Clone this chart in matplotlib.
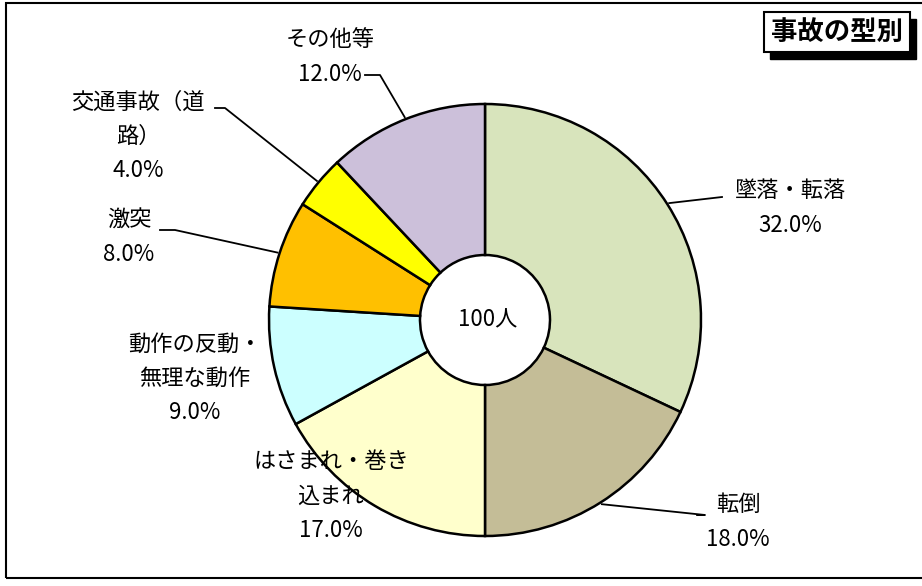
import numpy as np
import matplotlib.pyplot as plt
from matplotlib.patches import Rectangle

plt.rcParams['font.family'] = ['Noto Sans CJK JP', 'DejaVu Sans']

# data
labels = ['墜落・転落', '転倒', 'はさまれ・巻き\n込まれ', '動作の反動・\n無理な動作', '激突', '交通事故（道\n路）', 'その他等']
values = [32.0, 18.0, 17.0, 9.0, 8.0, 4.0, 12.0]
colors = ['#D8E4BC', '#C4BD97', '#FFFFCC', '#CCFFFF', '#FFC000', '#FFFF00', '#CCC0DA']
total_text = '100人'
title = '事故の型別'

# layout (pixel coords, y up)
W, H = 922, 586
cx, cy = 485, 266
R = 216
hole = 65
# label text centre, and leader elbow (None = no leader)
label_pos = [(790, 378), (738, 64), (331, 90), (195, 208), (129, 349), (138, 450), (330, 529)]
elbows = [(722, 389), (705, 71), None, None, (175, 356), (225, 478), (380, 511)]
elbow_end = [(722, 389), (697, 71), None, None, (160, 356), (215, 478), (365, 511)]

fig = plt.figure(figsize=(W / 100, H / 100), dpi=100)
ax = fig.add_axes([0, 0, 1, 1])

wedges, _ = ax.pie(values, colors=colors, startangle=90, counterclock=False,
                   center=(cx, cy), radius=R, frame=True,
                   wedgeprops=dict(width=R - hole, edgecolor='black', linewidth=1.8))
ax.set_xlim(0, W)
ax.set_ylim(0, H)
ax.axis('off')

ax.text(cx + 3, cy, total_text, ha='center', va='center', fontsize=16)

start = 90.0
for i, (lab, val) in enumerate(zip(labels, values)):
    ang = np.deg2rad(start - val * 3.6 / 2)
    start -= val * 3.6
    tx, ty = label_pos[i]
    ax.text(tx, ty, lab + '\n' + f'{val:.1f}%', ha='center', va='center',
            fontsize=16, linespacing=1.62)
    if elbows[i] is not None:
        px = cx + R * 1.01 * np.cos(ang)
        py = cy + R * 1.01 * np.sin(ang)
        ex, ey = elbows[i]
        fx, fy = elbow_end[i]
        ax.plot([px, ex, fx], [py, ey, fy], color='black', lw=1.3)

# title box with shadow
ax.add_patch(Rectangle((770, 527), 146, 40, facecolor='black', edgecolor='black'))
ax.add_patch(Rectangle((764, 534), 146, 40, facecolor='white', edgecolor='black', lw=1.5))
ax.text(837, 554, title, ha='center', va='center', fontsize=19, fontweight='bold')

# outer frame
ax.add_patch(Rectangle((6, 8), 930, 575, facecolor='none', edgecolor='black', lw=1.5, clip_on=False))

fig.savefig('out.png', dpi=100)
